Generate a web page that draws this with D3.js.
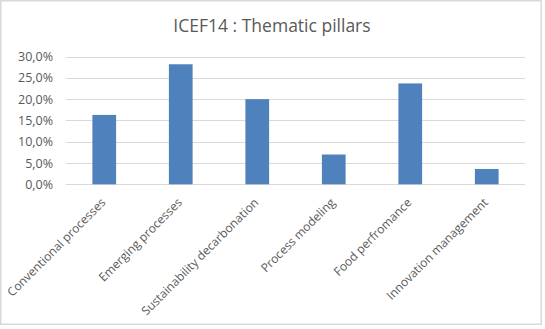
<!DOCTYPE html>
<html><head><meta charset="utf-8">
<script src="https://cdn.jsdelivr.net/npm/d3@7"></script>
<style>body{margin:0;background:#fff}svg{display:block}text{font-family:"Open Sans",sans-serif;fill:#595959}</style>
</head><body><svg id="c" width="545" height="329"></svg>
<script>
const title = "ICEF14 : Thematic pillars";
const categories = ["Conventional processes","Emerging processes","Sustainability decarbonation","Process modeling","Food perfromance","Innovation management"];
const values = [0.163, 0.282, 0.200, 0.070, 0.237, 0.036];
const yTicks = [0, 0.05, 0.10, 0.15, 0.20, 0.25, 0.30];

const svg = d3.select("#c");
svg.append("rect").attr("x",0.75).attr("y",0.75).attr("width",540.5).attr("height",323.5)
  .attr("fill","#fff").attr("stroke","#d9d9d9").attr("stroke-width",1.5);

const x = d3.scaleBand().domain(categories).range([66,525]).paddingInner(0.69).paddingOuter(0.345);
const y = d3.scaleLinear().domain([0,0.30]).range([184.3,56.6]);
const fmt = v => d3.format(".1%")(v).replace(".", ",");

// gridlines
svg.append("g").selectAll("line").data(yTicks).join("line")
  .attr("x1",66).attr("x2",525).attr("y1",d=>Math.round(y(d))+0.5).attr("y2",d=>Math.round(y(d))+0.5)
  .attr("stroke","#d9d9d9").attr("stroke-width",1);

// y axis labels
const ya = svg.append("g").attr("transform","translate(53,0)")
  .call(d3.axisLeft(y).tickValues(yTicks).tickFormat(fmt).tickSize(0).tickPadding(0));
ya.select(".domain").remove();
ya.selectAll("text").attr("font-size",12.5).attr("fill","#595959").attr("font-family","Open Sans");

// bars
svg.append("g").selectAll("rect").data(values).join("rect")
  .attr("x",(d,i)=>x(categories[i])).attr("width",x.bandwidth())
  .attr("y",d=>y(d)).attr("height",d=>y(0)-y(d))
  .attr("fill","#4f81bd");

// x axis labels
const xa = svg.append("g").attr("transform","translate(0,184.3)")
  .call(d3.axisBottom(x).tickSize(0).tickPadding(0));
xa.select(".domain").remove();
xa.selectAll("text").attr("font-size",12).attr("fill","#595959").attr("font-family","Open Sans")
  .attr("text-anchor","end").attr("dy",0)
  .attr("transform","translate(2,19) rotate(-45)");

// title
svg.append("text").attr("x",272).attr("y",32).attr("text-anchor","middle")
  .attr("font-size",17.5).attr("fill","#595959").text(title);
</script></body></html>
